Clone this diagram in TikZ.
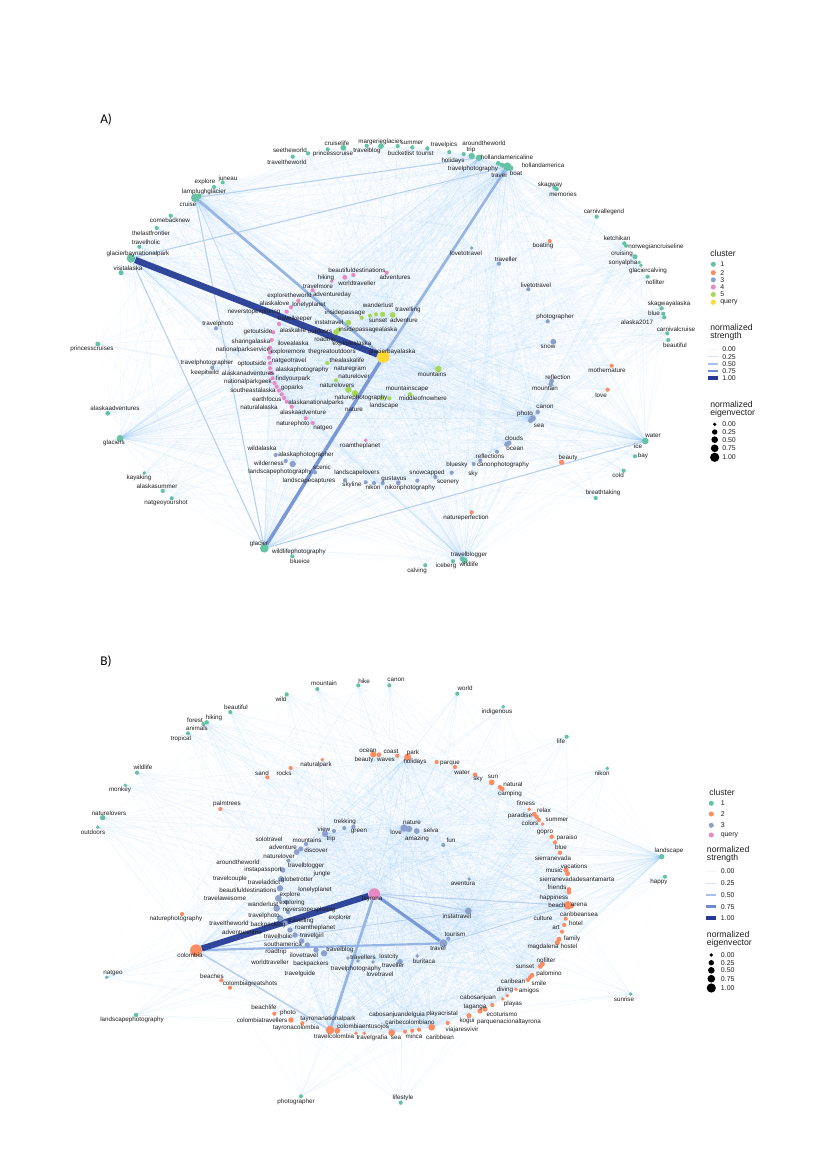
\documentclass[tikz,border=0pt]{standalone}
\usepackage{fontspec}
\setmainfont{Liberation Sans}
\newfontfamily\carl{Carlito}
\usetikzlibrary{backgrounds}
\definecolor{cA}{RGB}{102,194,165}
\definecolor{cB}{RGB}{252,141,98}
\definecolor{cC}{RGB}{141,160,203}
\definecolor{cD}{RGB}{231,138,195}
\definecolor{cE}{RGB}{166,216,84}
\definecolor{cQ}{RGB}{255,217,47}
\definecolor{hazec}{RGB}{120,182,240}
\definecolor{eD}{RGB}{48,70,155}
\definecolor{eM}{RGB}{122,152,214}
\definecolor{eL}{RGB}{150,180,228}
\definecolor{eX}{RGB}{185,208,240}
\definecolor{k0}{RGB}{238,245,253}
\definecolor{k1}{RGB}{212,228,246}
\definecolor{k2}{RGB}{168,192,236}
\definecolor{k3}{RGB}{110,139,210}
\definecolor{k4}{RGB}{38,57,150}
\definecolor{txt}{RGB}{30,30,30}
\newcounter{ca}\newcounter{cb}\newcounter{lbc}
\tikzset{
  dot/.style={circle,inner sep=0pt,draw=none},
  lbl/.style={inner sep=0pt,font=\fontsize{4.7}{5.5}\selectfont,text=txt},
  haze/.style={draw=hazec,line width=0.25pt,opacity=0.075},
  legt/.style={anchor=west,inner sep=0pt,font=\fontsize{6.5}{7.5}\selectfont,text=txt},
  legi/.style={anchor=west,inner sep=0pt,font=\fontsize{5.2}{6}\selectfont,text=txt},
  ttl/.style={anchor=west,inner sep=0pt,font=\carl\fontsize{10}{12}\selectfont},
  estrong/.style={draw=eD,line width=4.8pt},
  emid/.style={draw=eM,line width=2.6pt},
  elight/.style={draw=eL,line width=2pt},
  ethin/.style={draw=eX,line width=0.8pt}
}
\newcommand{\dtA}[5][]{\stepcounter{ca}\node[dot,fill=#4,minimum size={1.2*#5pt},#1] (pa\arabic{ca}) at (#2,#3) {};}
\newcommand{\dtB}[5][]{\stepcounter{cb}\node[dot,fill=#4,minimum size={1.2*#5pt},#1] (pb\arabic{cb}) at (#2,#3) {};}
\newcommand{\lbx}[3]{\stepcounter{lbc}\node[lbl] (lb\arabic{lbc}) at (#1,#2) {#3};}
\newcommand{\lgx}[4]{\stepcounter{lbc}\node[#3] (lb\arabic{lbc}) at (#1,#2) {#4};}
\newcommand{\lkx}[4]{\stepcounter{lbc}\node[dot,fill=#3,minimum size={1.15*#4pt}] (lb\arabic{lbc}) at (#1,#2) {};}
\begin{document}
\begin{tikzpicture}[x=0.75pt,y=-0.75pt]
\useasboundingbox (0,0) rectangle (830,1175);
% ================= PANEL A dots =================
\dtA{308}{153.3}{cA}{2.6}
\dtA{292.7}{156.7}{cA}{2.6}
\dtA{327.7}{149.3}{cA}{2.6}
\dtA{343.3}{147.7}{cA}{3.6}
\dtA{366.7}{145.7}{cA}{2.6}
\dtA{381}{146}{cA}{3.6}
\dtA{397.7}{146}{cA}{2.6}
\dtA{412.3}{147.3}{cA}{2.6}
\dtA{427.3}{148.3}{cA}{2.6}
\dtA{449.3}{152}{cA}{2.6}
\dtA{463.7}{154}{cA}{2.6}
\dtA{471.7}{156}{cA}{4}
\dtA[alias=hollA]{479}{157.7}{cA}{4}
\dtA{498.3}{163.3}{cA}{3}
\dtA{502}{165}{cA}{3}
\dtA[alias=travelA]{507.3}{166.7}{cA}{5.4}
\dtA{511}{168}{cA}{3}
\dtA{556.7}{189}{cA}{2.8}
\dtA{554.5}{187.5}{cA}{2.8}
\dtA{596.7}{216.7}{cA}{2.6}
\dtA{624.3}{243.3}{cA}{2.6}
\dtA{626}{245.7}{cA}{2.6}
\dtA{635}{256.7}{cA}{3.2}
\dtA{639.3}{262.3}{cA}{2.4}
\dtA{641}{265.3}{cA}{2.4}
\dtA{647.7}{276.7}{cA}{2.6}
\dtA{661.7}{308.3}{cA}{2.6}
\dtA{663.3}{313.7}{cA}{2.6}
\dtA{664.3}{317.3}{cA}{2.6}
\dtA{667.3}{333.3}{cA}{2.6}
\dtA{668.3}{340}{cA}{2.6}
\dtA[alias=waterA]{645.3}{441}{cA}{4.2}
\dtA{635}{456.3}{cA}{2.6}
\dtA{623.7}{470.7}{cA}{2.6}
\dtA{595.7}{498}{cA}{2.6}
\dtA{462.3}{559}{cA}{3}
\dtA[alias=wildlifeA]{464.5}{560.7}{cA}{4}
\dtA{453}{561.3}{cA}{2.6}
\dtA{425.3}{565.3}{cA}{2.6}
\dtA[alias=glacierA]{264.3}{548.3}{cA}{5.4}
\dtA{292.3}{556.3}{cA}{2.6}
\dtA{171.7}{498.3}{cA}{2.6}
\dtA{162.7}{491}{cA}{2.6}
\dtA{144.3}{473}{cA}{2.4}
\dtA[alias=glaciersA]{120}{438.3}{cA}{4.2}
\dtA{107.7}{413.3}{cA}{3}
\dtA{97.7}{344}{cA}{3}
\dtA{121}{272.7}{cA}{3.2}
\dtA[alias=gbnp]{131}{258.3}{cA}{5.4}
\dtA{139.3}{246.7}{cA}{2.6}
\dtA{156.7}{228}{cA}{2.6}
\dtA{170.7}{215.7}{cA}{2.6}
\dtA[alias=cruiseA]{195.3}{197.7}{cA}{5.4}
\dtA{199}{196}{cA}{3.4}
\dtA{214}{187}{cA}{2.6}
\dtA{222.7}{182.3}{cA}{2.6}
\dtA{549.7}{241}{cB}{2.6}
\dtA{611.7}{365.7}{cB}{2.6}
\dtA{607.7}{389.7}{cB}{2.6}
\dtA{561.7}{462.3}{cB}{3.4}
\dtA{471.7}{512.3}{cB}{2.6}
\dtA{471.7}{248}{cC}{2.2}
\dtA{499}{263.7}{cC}{2.6}
\dtA{528.3}{289.3}{cC}{2.6}
\dtA{547.7}{321.3}{cC}{2.6}
\dtA{553.3}{341.7}{cC}{3.6}
\dtA{551.7}{381}{cC}{3}
\dtA{550.7}{384.3}{cC}{3}
\dtA{537.7}{412}{cC}{2.8}
\dtA[alias=photoA]{532.7}{418.3}{cC}{4}
\dtA{530.5}{420.5}{cC}{3.2}
\dtA{509}{443}{cC}{3.2}
\dtA{506.7}{444.3}{cC}{3.2}
\dtA{497}{451.7}{cC}{2.6}
\dtA{480.3}{460.7}{cC}{2.6}
\dtA{473.7}{464}{cC}{2.6}
\dtA{451.7}{472.7}{cC}{2.6}
\dtA{435.3}{477}{cC}{2.6}
\dtA{417.3}{480.7}{cC}{2.6}
\dtA{398.3}{482.7}{cC}{3}
\dtA{382.7}{483}{cC}{2.6}
\dtA{374}{483}{cC}{2.6}
\dtA{365.7}{482.3}{cC}{2.6}
\dtA{345}{480.3}{cC}{2.6}
\dtA{315}{472.3}{cC}{2.6}
\dtA{285.7}{461}{cC}{2.6}
\dtA{292.7}{464}{cC}{4}
\dtA{275.7}{455}{cC}{2.6}
\dtA{212.3}{367.7}{cC}{2.6}
\dtA{216}{328.3}{cC}{2.6}
\dtA{386.7}{272.7}{cD}{2.6}
\dtA{353.3}{275}{cD}{2.6}
\dtA{344.7}{277.3}{cD}{3}
\dtA{331.7}{281.3}{cD}{2.4}
\dtA{312.7}{290.3}{cD}{2.6}
\dtA{298.3}{300.7}{cD}{2.6}
\dtA{291}{307.3}{cD}{2.6}
\dtA{286.7}{311.7}{cD}{2.6}
\dtA{279}{324}{cD}{2.6}
\dtA{273.3}{332.3}{cD}{2.6}
\dtA{271.7}{340}{cD}{2.6}
\dtA{270}{347.7}{cD}{2.6}
\dtA{270}{352.5}{cD}{2.6}
\dtA{269}{357.7}{cD}{2.6}
\dtA{270}{363}{cD}{2.6}
\dtA{270}{368.3}{cD}{2.6}
\dtA{271}{373}{cD}{2.6}
\dtA{272.7}{378.3}{cD}{2.6}
\dtA{274.5}{383}{cD}{2.6}
\dtA{276.7}{386.7}{cD}{2.6}
\dtA{279}{390.5}{cD}{2.6}
\dtA{281.7}{394.3}{cD}{2.6}
\dtA{284}{398}{cD}{2.6}
\dtA{286.7}{401.7}{cD}{2.6}
\dtA{291.7}{406.7}{cD}{2.6}
\dtA{305.7}{418.3}{cD}{2.6}
\dtA{312.7}{423}{cD}{2.6}
\dtA{365.7}{440.3}{cD}{2.4}
\dtA{327.3}{363}{cE}{2.6}
\dtA{336}{380.3}{cE}{2.6}
\dtA{348.3}{389.7}{cE}{4}
\dtA{355}{393.3}{cE}{4}
\dtA{381.7}{398.3}{cE}{2.8}
\dtA{389.3}{398.3}{cE}{2.6}
\dtA{410}{394.3}{cE}{2.6}
\dtA[alias=mountainsA]{438.3}{369}{cE}{4}
\dtA{348.3}{322.7}{cE}{3.6}
\dtA{361.7}{317.7}{cE}{2.6}
\dtA{370}{315.7}{cE}{2.6}
\dtA{376}{314.3}{cE}{2.6}
\dtA{382.7}{314.3}{cE}{3.2}
\dtA{392.7}{315}{cE}{3.6}
\dtA{336}{332.3}{cE}{3.6}
\dtA{338.3}{330}{cE}{3.2}
\dtA[alias=gbaQ]{383.3}{356.7}{cQ}{7.6}
\edef\NA{\arabic{ca}}
% ================= PANEL B dots =================
\dtB{286.7}{694.3}{cA}{2.6}
\dtB{230.3}{712}{cA}{2.6}
\dtB{206.7}{722.3}{cA}{2.8}
\dtB{203.5}{724}{cA}{2.6}
\dtB{188}{733.3}{cA}{2.6}
\dtB{137}{772.7}{cA}{2.6}
\dtB{125.3}{785.3}{cA}{2.4}
\dtB{102.7}{817.7}{cA}{3.4}
\dtB{97.7}{827.3}{cA}{2.4}
\dtB{317.3}{689}{cA}{2.6}
\dtB{358.3}{685.3}{cA}{2.6}
\dtB{389.3}{685.3}{cA}{2.6}
\dtB{457.3}{693.7}{cA}{2.6}
\dtB{503.3}{706.7}{cA}{2.4}
\dtB{566.7}{736.7}{cA}{2.6}
\dtB{607.3}{768.3}{cA}{2.4}
\dtB[alias=landB]{661.7}{856.7}{cA}{3.4}
\dtB{665}{876.7}{cA}{2.6}
\dtB{630.7}{994}{cA}{2.4}
\dtB{400.7}{1102.7}{cA}{2.6}
\dtB{301}{1096.3}{cA}{2.6}
\dtB{136}{1015}{cA}{2.8}
\dtB{106.7}{977.3}{cA}{2.4}
\dtB{267.3}{777.3}{cB}{2.6}
\dtB{290.7}{768}{cB}{2.6}
\dtB{220.3}{809}{cB}{2.6}
\dtB{322.3}{759.7}{cB}{2.4}
\dtB{373.3}{754.3}{cB}{4}
\dtB{379}{754.7}{cB}{3}
\dtB{397.3}{755.7}{cB}{2.6}
\dtB[alias=parkB]{407.7}{757}{cB}{4.4}
\dtB{436.7}{762}{cB}{2.6}
\dtB{455}{767}{cB}{2.6}
\dtB{475}{774.7}{cB}{2.8}
\dtB{491.7}{782.3}{cB}{3.6}
\dtB{500}{787.3}{cB}{3}
\dtB{502.3}{789}{cB}{3}
\dtB{529.3}{809.3}{cB}{2.4}
\dtB{534.3}{814.3}{cB}{3.2}
\dtB{536.7}{817}{cB}{2.8}
\dtB{539}{820}{cB}{2.6}
\dtB{542.7}{824}{cB}{2.4}
\dtB{551.7}{836.7}{cB}{2.8}
\dtB{555}{842.3}{cB}{2.6}
\dtB{560}{852.7}{cB}{2.8}
\dtB{566}{870}{cB}{3.2}
\dtB{567.5}{873.5}{cB}{3.2}
\dtB{569}{889.3}{cB}{2.8}
\dtB{569}{892.3}{cB}{2.8}
\dtB[alias=beachB]{568.3}{905.3}{cB}{5.4}
\dtB{571.5}{906}{cB}{3}
\dtB{565.7}{918.7}{cB}{2.6}
\dtB{564.3}{925}{cB}{2.6}
\dtB{562}{931.7}{cB}{2.6}
\dtB{559}{939.3}{cB}{3.2}
\dtB{557.3}{942.7}{cB}{3.2}
\dtB{542.3}{964}{cB}{3.2}
\dtB{540.3}{966.3}{cB}{3.2}
\dtB{532}{975.3}{cB}{3}
\dtB{530}{977.3}{cB}{2.6}
\dtB{528}{980}{cB}{2.6}
\dtB{516}{989.3}{cB}{2.4}
\dtB{507.3}{995.7}{cB}{2.4}
\dtB{502.7}{999}{cB}{2.4}
\dtB{492.3}{1005}{cB}{2.6}
\dtB{485}{1009}{cB}{3.2}
\dtB{480}{1011}{cB}{3.2}
\dtB{469}{1015.7}{cB}{3.2}
\dtB{447.7}{1023}{cB}{2.6}
\dtB[alias=caribB]{431.7}{1027.3}{cB}{4.2}
\dtB{419}{1029.7}{cB}{2.6}
\dtB{412.3}{1030.7}{cB}{2.6}
\dtB{405}{1031.7}{cB}{2.6}
\dtB[alias=seaB]{391.7}{1032.7}{cB}{4.2}
\dtB{364.3}{1033.3}{cB}{2.4}
\dtB{356}{1033.3}{cB}{2.4}
\dtB{337.3}{1030.7}{cB}{3.6}
\dtB[alias=tcolB]{330}{1030}{cB}{5.4}
\dtB{302.3}{1023.3}{cB}{2.6}
\dtB{291}{1020}{cB}{3.4}
\dtB{274.3}{1013.7}{cB}{2.6}
\dtB{230}{987.7}{cB}{2.6}
\dtB{221.3}{980.3}{cB}{2.6}
\dtB{182}{914}{cB}{2.6}
\dtB[alias=colB]{196}{950.3}{cB}{7.4}
\dtB{344.3}{828}{cC}{2.6}
\dtB{353.3}{826.7}{cC}{2.6}
\dtB{334}{831}{cC}{2.6}
\dtB[alias=tripB]{325}{833.7}{cC}{4}
\dtB{306}{844}{cC}{2.6}
\dtB{300.7}{849}{cC}{3.2}
\dtB{296.7}{852}{cC}{3.6}
\dtB{288.3}{860.7}{cC}{2.6}
\dtB[alias=natureB]{404}{828}{cC}{4.6}
\dtB{409}{829}{cC}{4}
\dtB{416.7}{831}{cC}{3.6}
\dtB{443.3}{845}{cC}{2.6}
\dtB{469.3}{879}{cC}{2.4}
\dtB[alias=instaB]{468.3}{911}{cC}{4.2}
\dtB{448.3}{938.7}{cC}{2.6}
\dtB[alias=travelB]{443.3}{943.3}{cC}{5}
\dtB{417.3}{956}{cC}{2.4}
\dtB{400}{961.7}{cC}{3.4}
\dtB{373}{962}{cC}{2.4}
\dtB{358}{961}{cC}{2.4}
\dtB{348}{958}{cC}{2.4}
\dtB{324}{953.3}{cC}{4}
\dtB{316}{950}{cC}{3.4}
\dtB{307.3}{945}{cC}{3.4}
\dtB{301.7}{941}{cC}{3.4}
\dtB{295}{935}{cC}{3.4}
\dtB{290}{930}{cC}{3.4}
\dtB{285}{923.3}{cC}{3.6}
\dtB{280}{918.3}{cC}{4}
\dtB{276.7}{908.3}{cC}{4.2}
\dtB{278.3}{898.3}{cC}{4.2}
\dtB{280}{888.3}{cC}{4}
\dtB{281}{879}{cC}{3.6}
\dtB{282.7}{870}{cC}{3.4}
\dtB{286}{902}{cC}{2.6}
\dtB{288}{912}{cC}{2.6}
\dtB[alias=tayQ]{374.3}{894}{cD}{7.2}
\edef\NB{\arabic{cb}}
% ================= edges (behind) =================
\begin{pgfonlayer}{background}
\foreach \h in {gbaQ,gbnp,cruiseA,travelA,glacierA,waterA,glaciersA,photoA,wildlifeA,mountainsA,hollA}
  \foreach \i in {1,...,\NA} \draw[haze] (pa\i.center) -- (\h.center);
\foreach \k in {6,17,31,47,59,73,88}
  \foreach \i in {1,...,\NA} {\pgfmathtruncatemacro\j{mod(\i+\k,\NA)+1}\draw[haze] (pa\i.center) -- (pa\j.center);}
\foreach \h in {tayQ,colB,travelB,instaB,beachB,parkB,tcolB,seaB,caribB,natureB,tripB,landB}
  \foreach \i in {1,...,\NB} \draw[haze] (pb\i.center) -- (\h.center);
\foreach \k in {6,17,31,47,59,73,88}
  \foreach \i in {1,...,\NB} {\pgfmathtruncatemacro\j{mod(\i+\k,\NB)+1}\draw[haze] (pb\i.center) -- (pb\j.center);}
\draw[ethin] (gbnp) -- (glacierA);
\draw[ethin] (cruiseA) -- (glacierA);
\draw[ethin] (gbnp) -- (travelA);
\draw[ethin] (glacierA) -- (waterA);
\draw[ethin] (cruiseA) -- (hollA);
\draw[elight] (cruiseA) -- (gbaQ);
\draw[elight] (travelA) -- (gbaQ);
\draw[emid] (glacierA) -- (gbaQ);
\draw[estrong] (gbnp) -- (gbaQ);
\draw[ethin] (tayQ) -- (beachB);
\draw[ethin,line width=0.6pt] (travelB) -- (beachB);
\draw[ethin] (tayQ) -- (instaB);
\draw[ethin,line width=0.6pt] (colB) -- (instaB);
\draw[ethin,line width=1.2pt] (colB) -- (tcolB);
\draw[elight,line width=1.6pt] (colB) -- (travelB);
\draw[elight] (tayQ) -- (tcolB);
\draw[emid,line width=2.3pt] (tayQ) -- (travelB);
\draw[estrong,line width=4.5pt] (colB) -- (tayQ);
\end{pgfonlayer}
% ================= PANEL A labels =================
\lgx{100}{120}{ttl}{A)}
\lbx{290}{150}{seetheworld}
\lbx{287}{162}{traveltheworld}
\lbx{337}{143}{cruiselife}
\lbx{333}{154}{princesscruise}
\lbx{380}{142}{margerieglacier}
\lbx{367}{151}{travelblog}
\lbx{412}{143}{summer}
\lbx{401}{153}{bucketlist}
\lbx{425}{153.5}{tourist}
\lbx{444}{145}{travelpics}
\lbx{484}{143}{aroundtheworld}
\lbx{471}{150}{trip}
\lbx{453}{161}{holidays}
\lbx{507}{157}{hollandamericaline}
\lbx{543}{165.7}{hollandamerica}
\lbx{473}{168.7}{travelphotography}
\lbx{499}{175.7}{travel}
\lbx{516}{173.3}{boat}
\lbx{550}{184.7}{skagway}
\lbx{563}{194}{memories}
\lbx{604}{211.7}{carnivallegend}
\lbx{617}{238}{ketchikan}
\lbx{656}{246.7}{norwegiancruiseline}
\lbx{622}{254.3}{cruising}
\lbx{623}{262.7}{sonyalpha}
\lbx{648}{271.3}{glaciercalving}
\lbx{655}{282.3}{nofilter}
\lbx{669}{303.7}{skagwayalaska}
\lbx{654}{313.7}{blue}
\lbx{637}{322.3}{alaska2017}
\lbx{676}{329}{carnivalcruise}
\lbx{675}{345.7}{beautiful}
\lbx{543}{246.3}{boating}
\lbx{466}{253.7}{lovetotravel}
\lbx{506}{259}{traveller}
\lbx{536}{285}{livetotravel}
\lbx{555}{316.7}{photographer}
\lbx{548}{346.7}{snow}
\lbx{607}{370.7}{mothernature}
\lbx{601}{395}{love}
\lbx{558}{377.3}{reflection}
\lbx{545}{388.7}{mountain}
\lbx{545}{406.7}{canon}
\lbx{525}{414.3}{photo}
\lbx{539}{426}{sea}
\lbx{514}{438.3}{clouds}
\lbx{515}{449.3}{ocean}
\lbx{490}{456.7}{reflections}
\lbx{503}{465.3}{canonphotography}
\lbx{457}{465.3}{bluesky}
\lbx{473}{474.3}{sky}
\lbx{427}{472.7}{snowcapped}
\lbx{448}{482.3}{scenery}
\lbx{394}{478.7}{gustavus}
\lbx{410}{488.3}{nikonphotography}
\lbx{373}{487.7}{nikon}
\lbx{352}{484.7}{skyline}
\lbx{357}{472.7}{landscapelovers}
\lbx{309}{480.7}{landscapecaptures}
\lbx{322}{467}{scenic}
\lbx{280}{472.3}{landscapephotography}
\lbx{306}{455}{alaskaphotographer}
\lbx{262}{448}{wildalaska}
\lbx{269}{463.3}{wilderness}
\lbx{653}{435.7}{water}
\lbx{638}{446}{ice}
\lbx{643}{456.3}{bay}
\lbx{618}{475.3}{cold}
\lbx{603}{493}{breathtaking}
\lbx{568}{458}{beauty}
\lbx{466}{517.7}{natureperfection}
\lbx{469}{555}{travelblogger}
\lbx{446}{565.7}{iceberg}
\lbx{469}{564.3}{wildlife}
\lbx{417}{571}{calving}
\lbx{259}{544.3}{glacier}
\lbx{299}{552.3}{wildlifephotography}
\lbx{300}{561.7}{blueice}
\lbx{139}{477.7}{kayaking}
\lbx{157}{486}{alaskasummer}
\lbx{166}{503.3}{natgeoyourshot}
\lbx{115}{408.7}{alaskaadventures}
\lbx{114}{443.3}{glaciers}
\lbx{92}{349}{princesscruises}
\lbx{128}{268}{visitalaska}
\lbx{138}{254}{glacierbaynationalpark}
\lbx{146}{242.3}{travelholic}
\lbx{151}{233.3}{thelastfrontier}
\lbx{170}{220.7}{comebacknew}
\lbx{204}{192.3}{lamplughglacier}
\lbx{188}{204}{cruise}
\lbx{205}{181.7}{explore}
\lbx{228}{178.7}{juneau}
\lbx{207}{363.3}{travelphotographer}
\lbx{205}{373.3}{keepitwild}
\lbx{252}{364}{optoutside}
\lbx{248}{373.3}{alaskanadventures}
\lbx{289}{361}{natgeotravel}
\lbx{302}{370}{alaskaphotography}
\lbx{248}{381.7}{nationalparkgeek}
\lbx{293}{379}{findyourpark}
\lbx{253}{390}{southeastalaska}
\lbx{292}{388.3}{goparks}
\lbx{267}{399}{earthfocus}
\lbx{316}{402.7}{alaskanationalparks}
\lbx{259}{407.7}{naturalalaska}
\lbx{303}{412.3}{alaskaadventure}
\lbx{293}{424}{naturephoto}
\lbx{323}{428}{natgeo}
\lbx{360}{445.7}{roamtheplanet}
\lbx{218}{324}{travelphoto}
\lbx{357}{270.3}{beautifuldestinations}
\lbx{395}{277.7}{adventures}
\lbx{326}{277.7}{hiking}
\lbx{357}{283}{worldtraveller}
\lbx{318}{286.7}{travelmore}
\lbx{289.5}{296}{exploretheworld}
\lbx{332}{295.3}{adventureday}
\lbx{274.5}{303.3}{alaskalove}
\lbx{309}{305}{lonelyplanet}
\lbx{254}{312.3}{neverstopexploring}
\lbx{295}{319.3}{travelkeeper}
\lbx{329}{322.3}{instatravel}
\lbx{345}{313.3}{insidepassage}
\lbx{378}{305.7}{wanderlust}
\lbx{378}{320.7}{sunset}
\lbx{408}{310.3}{travelling}
\lbx{404}{320.7}{adventure}
\lbx{368}{330.3}{insidepassagealaska}
\lbx{320}{331.7}{outdoors}
\lbx{293}{330}{alaskalife}
\lbx{258}{332.3}{getoutside}
\lbx{325}{340}{roadtrip}
\lbx{352}{344}{explorealaska}
\lbx{332}{352.3}{thegreatoutdoors}
\lbx{251}{342.3}{sharingalaska}
\lbx{293}{343.3}{ilovealaska}
\lbx{243}{350}{nationalparkservice}
\lbx{288}{352.3}{exploremore}
\lbx{392}{352.3}{glacierbayalaska}
\lbx{347}{360.3}{thealaskalife}
\lbx{350}{368.7}{naturegram}
\lbx{354}{376.7}{naturelover}
\lbx{337}{385.3}{naturelovers}
\lbx{361}{398.3}{naturephotography}
\lbx{354}{409.3}{nature}
\lbx{407}{389.3}{mountainscape}
\lbx{423}{398.7}{middleofnowhere}
\lbx{384}{406.3}{landscape}
\lbx{432}{374}{mountains}
% legend A
\lgx{710}{253.3}{legt}{cluster}
\lkx{713.3}{264.3}{cA}{3.3}\lgx{720}{264.3}{legi}{1}
\lkx{713.3}{272.7}{cB}{3.3}\lgx{720}{272.7}{legi}{2}
\lkx{713.3}{279.8}{cC}{3.3}\lgx{720}{279.8}{legi}{3}
\lkx{713.3}{287}{cD}{3.3}\lgx{720}{287}{legi}{4}
\lkx{713.3}{294.5}{cE}{3.3}\lgx{720}{294.5}{legi}{5}
\lkx{713.3}{302.3}{cQ}{3.3}\lgx{720}{302.3}{legi}{query}
\lgx{710}{327.3}{legt}{normalized}
\lgx{710}{336.7}{legt}{strength}
\draw[k0,line width=0.3pt] (708,348.7) -- (718,348.7);
\draw[k1,line width=0.7pt] (708,356.7) -- (718,356.7);
\draw[k2,line width=1.3pt] (708,363.9) -- (718,363.9);
\draw[k3,line width=2pt] (708,370.9) -- (718,370.9);
\draw[k4,line width=2.8pt] (708,378.3) -- (718,378.3);
\lgx{722}{348.7}{legi}{0.00}
\lgx{722}{356.7}{legi}{0.25}
\lgx{722}{363.9}{legi}{0.50}
\lgx{722}{370.9}{legi}{0.75}
\lgx{722}{378.3}{legi}{1.00}
\lgx{710}{404}{legt}{normalized}
\lgx{710}{413}{legt}{eigenvector}
\lkx{714.7}{424.3}{black}{2.4}\lgx{722}{424.3}{legi}{0.00}
\lkx{714.7}{432}{black}{3.5}\lgx{722}{432}{legi}{0.25}
\lkx{714.7}{439.7}{black}{4.3}\lgx{722}{439.7}{legi}{0.50}
\lkx{714.7}{448.3}{black}{5}\lgx{722}{448.3}{legi}{0.75}
\lkx{714.7}{457.3}{black}{6}\lgx{722}{457.3}{legi}{1.00}
% ================= PANEL B labels =================
\lgx{100}{662}{ttl}{B)}
\lbx{281}{699.3}{wild}
\lbx{236}{707.7}{beautiful}
\lbx{195}{720.3}{forest}
\lbx{214}{718}{hiking}
\lbx{197}{728.7}{animals}
\lbx{181}{738.7}{tropical}
\lbx{143}{767.7}{wildlife}
\lbx{120}{790.3}{monkey}
\lbx{227}{804.3}{palmtrees}
\lbx{109}{813.3}{naturelovers}
\lbx{93}{832.3}{outdoors}
\lbx{262}{773.3}{sand}
\lbx{284}{773}{rocks}
\lbx{324}{683.7}{mountain}
\lbx{364}{681.3}{hike}
\lbx{396}{680.3}{canon}
\lbx{465}{688.3}{world}
\lbx{497}{711.7}{indigenous}
\lbx{561}{741}{life}
\lbx{602}{773.7}{nikon}
\lbx{316}{765}{naturalpark}
\lbx{368}{750.7}{ocean}
\lbx{391}{751.3}{coast}
\lbx{413}{752.7}{park}
\lbx{364}{760}{beauty}
\lbx{386}{760}{waves}
\lbx{415}{762.3}{holidays}
\lbx{450}{763.3}{parque}
\lbx{462}{772}{water}
\lbx{478}{779.3}{sky}
\lbx{493}{776.7}{sun}
\lbx{513}{784}{natural}
\lbx{510}{794.3}{camping}
\lbx{526}{803.3}{fitness}
\lbx{544}{810}{relax}
\lbx{520}{815.7}{paradise}
\lbx{557}{820.3}{summer}
\lbx{530}{823.7}{colors}
\lbx{545}{832.7}{gopro}
\lbx{567}{838.3}{paraiso}
\lbx{561}{847}{blue}
\lbx{553}{858.7}{sierranevada}
\lbx{669}{851.3}{landscape}
\lbx{574}{866}{vacations}
\lbx{554}{870.3}{music}
\lbx{577}{879.3}{sierranevadadesantamarta}
\lbx{659}{881.7}{happy}
\lbx{557}{887}{friends}
\lbx{554}{897.7}{happiness}
\lbx{557}{905.3}{beach}
\lbx{579}{905.3}{arena}
\lbx{579}{914}{caribbeansea}
\lbx{543}{918}{culture}
\lbx{576}{923.7}{hotel}
\lbx{556}{927.3}{art}
\lbx{572}{938.7}{family}
\lbx{543}{947}{magdalena}
\lbx{569}{946.3}{hostel}
\lbx{546}{960.3}{nofilter}
\lbx{525}{966.7}{sunset}
\lbx{549}{973.7}{palomino}
\lbx{513}{981}{caribean}
\lbx{539}{983.7}{smile}
\lbx{505}{990}{diving}
\lbx{529}{991}{amigos}
\lbx{513}{1004}{playas}
\lbx{502}{1014}{ecoturismo}
\lbx{509}{1021.7}{parquenacionaltayrona}
\lbx{624}{999.3}{sunrise}
\lbx{345}{821.7}{trekking}
\lbx{324}{829}{view}
\lbx{359}{831.7}{green}
\lbx{331}{839}{trip}
\lbx{307}{840}{mountains}
\lbx{412}{822.7}{nature}
\lbx{396}{832.3}{love}
\lbx{431}{830}{selva}
\lbx{417}{839.3}{amazing}
\lbx{451}{840.7}{fun}
\lbx{269}{839}{solotravel}
\lbx{283}{847.3}{adventure}
\lbx{316}{850}{discover}
\lbx{279}{856}{naturelover}
\lbx{306}{866}{travelblogger}
\lbx{238}{862.3}{aroundtheworld}
\lbx{263}{870}{instapassport}
\lbx{322}{874.3}{jungle}
\lbx{230}{879}{travelcouple}
\lbx{297}{880}{globetrotter}
\lbx{264}{882.3}{traveladdict}
\lbx{315}{889.7}{lonelyplanet}
\lbx{248}{890.7}{beautifuldestinations}
\lbx{290}{895}{explore}
\lbx{225}{898.7}{travelawesome}
\lbx{292}{903}{exploring}
\lbx{263}{904.3}{wanderlust}
\lbx{309}{910}{neverstopexploring}
\lbx{264}{916.3}{travelphoto}
\lbx{340}{918.3}{explorer}
\lbx{301}{920.7}{travelling}
\lbx{229}{923.7}{traveltheworld}
\lbx{268}{925}{backpacking}
\lbx{315}{928.3}{roamtheplanet}
\lbx{242}{932.3}{adventuretime}
\lbx{278}{936}{travelholic}
\lbx{312}{936}{travelgirl}
\lbx{283}{944}{southamerica}
\lbx{340}{949.7}{travelblog}
\lbx{276}{952.3}{roadtrip}
\lbx{304}{955}{ilovetravel}
\lbx{270}{962.3}{worldtraveller}
\lbx{311}{964.3}{backpackers}
\lbx{363}{957.3}{travellers}
\lbx{356}{968.7}{travelphotography}
\lbx{389}{957.3}{lostcity}
\lbx{393}{965.7}{traveller}
\lbx{380}{974.3}{lovetravel}
\lbx{424}{961.7}{buritaca}
\lbx{300}{974}{travelguide}
\lbx{463}{883.3}{aventura}
\lbx{457}{916.7}{instatravel}
\lbx{455}{934.3}{tourism}
\lbx{438}{948.7}{travel}
\lbx{372}{899.3}{tayrona}
\lbx{190}{955.7}{colombia}
\lbx{176}{919.3}{naturephotography}
\lbx{113}{972.7}{natgeo}
\lbx{212}{976}{beaches}
\lbx{250}{983.7}{colombiagreatshots}
\lbx{132}{1019.7}{landscapephotography}
\lbx{264}{1007.7}{beachlife}
\lbx{288}{1013}{photo}
\lbx{262}{1020.7}{colombiatravellers}
\lbx{296}{1028.3}{tayronacolombia}
\lbx{328}{1019.3}{tayronanationalpark}
\lbx{334}{1036.7}{travelcolombia}
\lbx{363}{1027.3}{colombiaentusojos}
\lbx{372}{1038.3}{travelgrafia}
\lbx{396}{1038.3}{sea}
\lbx{397}{1015}{cabosanjuandelguia}
\lbx{410}{1022.3}{caribecolombiano}
\lbx{414}{1036.7}{minca}
\lbx{442}{1014.3}{playacristal}
\lbx{440}{1037.7}{caribbean}
\lbx{462}{1029.7}{viajaresvivir}
\lbx{467}{1020.7}{kogui}
\lbx{475}{1007.3}{taganga}
\lbx{478}{998.3}{cabosanjuan}
\lbx{296}{1101.7}{photographer}
\lbx{403}{1097.7}{lifestyle}
% legend B
\lgx{709}{792.3}{legt}{cluster}
\lkx{711.3}{803.3}{cA}{3.3}\lgx{720.5}{803.3}{legi}{1}
\lkx{711.3}{814}{cB}{3.3}\lgx{720.5}{814}{legi}{2}
\lkx{711.3}{825.3}{cC}{3.3}\lgx{720.5}{825.3}{legi}{3}
\lkx{711.3}{835}{cD}{3.3}\lgx{720.5}{835}{legi}{query}
\lgx{706.7}{849}{legt}{normalized}
\lgx{706.7}{858.3}{legt}{strength}
\draw[k0,line width=0.3pt] (706,871) -- (716,871);
\draw[k1,line width=0.7pt] (706,883) -- (716,883);
\draw[k2,line width=1.3pt] (706,895) -- (716,895);
\draw[k3,line width=2pt] (706,906.7) -- (716,906.7);
\draw[k4,line width=2.8pt] (706,918.3) -- (716,918.3);
\lgx{720.7}{871}{legi}{0.00}
\lgx{720.7}{883}{legi}{0.25}
\lgx{720.7}{895}{legi}{0.50}
\lgx{720.7}{906.7}{legi}{0.75}
\lgx{720.7}{918.3}{legi}{1.00}
\lgx{706.7}{934}{legt}{normalized}
\lgx{706.7}{943.3}{legt}{eigenvector}
\lkx{711.3}{955}{black}{2.4}\lgx{720.7}{955}{legi}{0.00}
\lkx{711.3}{962.7}{black}{3.5}\lgx{720.7}{962.7}{legi}{0.25}
\lkx{711.3}{970.3}{black}{4.3}\lgx{720.7}{970.3}{legi}{0.50}
\lkx{711.3}{978.7}{black}{5}\lgx{720.7}{978.7}{legi}{0.75}
\lkx{711.3}{988}{black}{6}\lgx{720.7}{988}{legi}{1.00}
\end{tikzpicture}
\end{document}
